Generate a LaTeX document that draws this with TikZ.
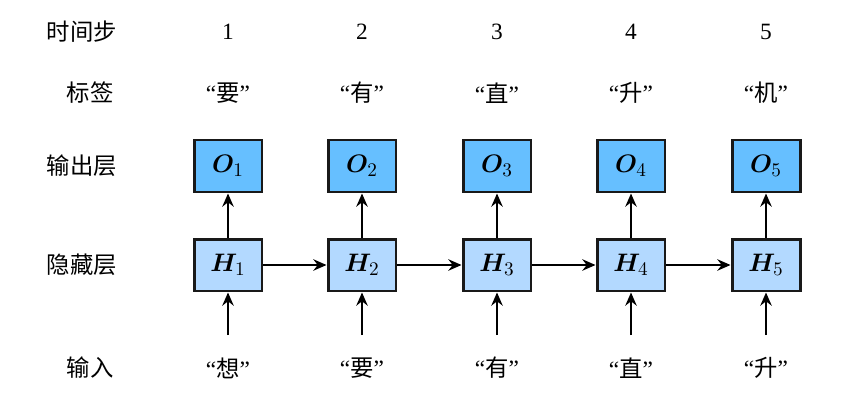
\documentclass[tikz,border=0pt]{standalone}
\usepackage{fontspec}
\usepackage{amsmath,bm}
\setmainfont{Liberation Serif}
\newfontfamily\cjk{Noto Sans CJK SC}
\usetikzlibrary{arrows.meta,positioning}
\definecolor{outblue}{HTML}{66BFFF}
\definecolor{hidblue}{HTML}{B3D9FF}

\begin{document}
\begin{tikzpicture}[x=0.02cm,y=-0.02cm,font=\fontsize{13.3}{16}\selectfont,
    outbox/.style={draw=black!90,line width=1.7pt,fill=outblue,minimum width=1.36cm,minimum height=1.04cm,inner sep=0pt,font=\fontsize{15}{18}\selectfont},
    hidbox/.style={draw=black!90,line width=1.7pt,fill=hidblue,minimum width=1.36cm,minimum height=1.04cm,inner sep=0pt,font=\fontsize{15}{18}\selectfont},
    arr/.style={line width=1.4pt,-{Stealth[length=7.5pt,width=6.5pt,inset=2.5pt]}}]
  \useasboundingbox (0,0) rectangle (868,402);

  % row names
  \node (rstep) at (82,32) {\cjk 时间步};
  \node (rlab) at (90,93) {\cjk 标签};
  \node (rout) at (82,166) {\cjk 输出层};
  \node (rhid) at (82,265) {\cjk 隐藏层};
  \node (rin) at (90,368) {\cjk 输入};

  % one column per time step
  \foreach \i/\x/\lab/\inp in {1/228/要/想,2/362/有/要,3/497/直/有,4/631/升/直,5/766/机/升}{
    \node (t\i) at (\x,32) {\i};
    \node (l\i) at (\x,93) {“{\cjk\lab}”};
    \node[outbox] (o\i) at (\x,166) {$\bm{O}_{\i}$};
    \node[hidbox] (h\i) at (\x,265) {$\bm{H}_{\i}$};
    \node (x\i) at (\x,368) {“{\cjk\inp}”};
    \coordinate (s\i) at (\x,335);
    \draw[arr] (s\i) -- (h\i);
    \draw[arr] (h\i) -- (o\i);
  }

  % hidden state passed on
  \foreach \i [count=\j from 2] in {1,...,4}
    \draw[arr] (h\i) -- (h\j);
\end{tikzpicture}
\end{document}
